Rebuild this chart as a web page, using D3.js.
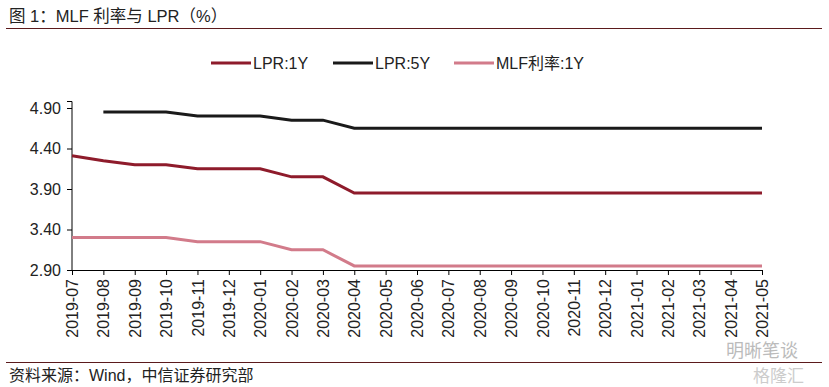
<!DOCTYPE html>
<html>
<head>
<meta charset="utf-8">
<script src="https://cdn.jsdelivr.net/npm/d3@7"></script>
<style>
  body { margin: 0; background: #fff; }
  svg { font-family: Arial, "Liberation Sans", "Noto Sans CJK SC", sans-serif; }
</style>
</head>
<body>
<div id="chart"></div>
<script>
// months on the x axis
var months = ["2019-07","2019-08","2019-09","2019-10","2019-11","2019-12",
    "2020-01","2020-02","2020-03","2020-04","2020-05","2020-06","2020-07",
    "2020-08","2020-09","2020-10","2020-11","2020-12","2021-01","2021-02",
    "2021-03","2021-04","2021-05"];

var lpr1y = [4.31,4.25,4.20,4.20,4.15,4.15,4.15,4.05,4.05,3.85,3.85,3.85,3.85,
    3.85,3.85,3.85,3.85,3.85,3.85,3.85,3.85,3.85,3.85];
// no 5Y quote in 2019-07
var lpr5y = [null,4.85,4.85,4.85,4.80,4.80,4.80,4.75,4.75,4.65,4.65,4.65,4.65,
    4.65,4.65,4.65,4.65,4.65,4.65,4.65,4.65,4.65,4.65];
var mlf1y = [3.30,3.30,3.30,3.30,3.25,3.25,3.25,3.15,3.15,2.95,2.95,2.95,2.95,
    2.95,2.95,2.95,2.95,2.95,2.95,2.95,2.95,2.95,2.95];

var yTicks = [2.90, 3.40, 3.90, 4.40, 4.90];

var series = [
    {name: "LPR:1Y", values: lpr1y, color: "#8e1b2b"},
    {name: "LPR:5Y", values: lpr5y, color: "#1a1a1a"},
    {name: "MLF利率:1Y", values: mlf1y, color: "#d27b8a"}
];

var w = 829, h = 387;
var svg = d3.select("#chart").append("svg")
    .attr("width", w)
    .attr("height", h);

// title + rule
svg.append("text")
    .attr("x", 9).attr("y", 22)
    .attr("font-size", 16.5).attr("fill", "#222")
    .text("图 1：MLF 利率与 LPR（%）");
svg.append("line")
    .attr("x1", 6).attr("x2", 822).attr("y1", 28.5).attr("y2", 28.5)
    .attr("stroke", "#5b1a1c").attr("stroke-width", 1.2);

var x = d3.scalePoint().domain(months).range([72, 762]);
var y = d3.scaleLinear().domain([2.90, 4.90]).range([270, 108]);

// y axis
var yAxis = svg.append("g")
    .attr("transform", "translate(72,0)")
    .call(d3.axisLeft(y).tickValues(yTicks).tickFormat(d3.format(".2f")).tickSize(5).tickPadding(6));
yAxis.select(".domain").attr("stroke", "#000").attr("d", "M-5,101.5H0V270");
yAxis.selectAll("text").attr("font-size", 16).attr("fill", "#222").attr("font-family", "Arial, 'Liberation Sans'");

// x axis
var xAxis = svg.append("g")
    .attr("transform", "translate(0,270)")
    .call(d3.axisBottom(x).tickSize(5).tickSizeOuter(0));
xAxis.select(".domain").attr("stroke", "#000");
xAxis.selectAll("text")
    .attr("font-size", 16).attr("fill", "#222")
    .attr("font-family", "Arial, 'Liberation Sans'")
    .attr("transform", "rotate(-90)")
    .attr("text-anchor", "end")
    .attr("x", -9).attr("y", 0).attr("dy", "0.35em");

// lines
var line = d3.line()
    .defined(function (d) { return d != null; })
    .x(function (d, i) { return x(months[i]); })
    .y(function (d) { return y(d); });

svg.selectAll("path.series")
    .data(series)
    .enter()
    .append("path")
    .attr("class", "series")
    .attr("fill", "none")
    .attr("stroke", function (d) { return d.color; })
    .attr("stroke-width", 3)
    .attr("d", function (d) { return line(d.values); });

// legend
var legendX = [211, 333, 454];
var lg = svg.selectAll("g.legend")
    .data(series)
    .enter()
    .append("g")
    .attr("class", "legend")
    .attr("transform", function (d, i) { return "translate(" + legendX[i] + ",63)"; });
lg.append("line")
    .attr("x1", 0).attr("x2", 40)
    .attr("stroke", function (d) { return d.color; })
    .attr("stroke-width", 3);
lg.append("text")
    .attr("x", 42).attr("dy", "0.36em")
    .attr("font-size", 16).attr("fill", "#222")
    .text(function (d) { return d.name; });

// bottom rule + source
svg.append("line")
    .attr("x1", 6).attr("x2", 822).attr("y1", 362.5).attr("y2", 362.5)
    .attr("stroke", "#5b1a1c").attr("stroke-width", 1.2);
svg.append("text")
    .attr("x", 9).attr("y", 381)
    .attr("font-size", 16).attr("fill", "#222")
    .text("资料来源：Wind，中信证券研究部");

// watermark
svg.append("text")
    .attr("x", 726).attr("y", 357)
    .attr("font-size", 18).attr("fill", "#bbb")
    .text("明晰笔谈");
svg.append("text")
    .attr("x", 753).attr("y", 382)
    .attr("font-size", 17).attr("fill", "#ccc")
    .text("格隆汇");
</script>
</body>
</html>
